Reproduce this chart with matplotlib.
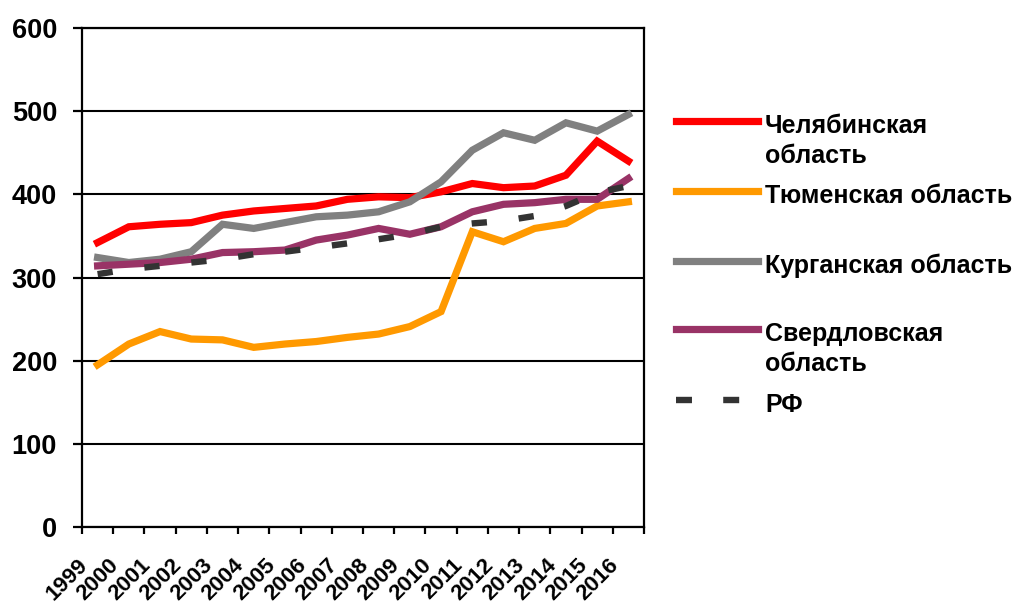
import numpy as np
import matplotlib
matplotlib.use('Agg')
import matplotlib.pyplot as plt
import matplotlib.transforms as mtransforms
from matplotlib.lines import Line2D

plt.rcParams['font.family'] = ['Liberation Sans', 'DejaVu Sans']
plt.rcParams['font.weight'] = 'bold'

# years on the x axis
years = [str(y) for y in range(1999, 2017)]

# series
chel = [342, 361, 364, 366, 375, 380, 383, 386, 394, 397, 396, 403, 413, 408, 410, 423, 464, 440]
tyum = [195, 220, 235, 226, 225, 216, 220, 223, 228, 232, 241, 259, 355, 343, 359, 365, 386, 391]
kurg = [324, 318, 322, 331, 364, 359, 366, 373, 375, 379, 391, 415, 453, 474, 465, 486, 476, 496]
sverd = [314, 316, 318, 322, 330, 331, 333, 345, 351, 359, 352, 361, 379, 388, 390, 394, 394, 419]
rf = [304, 310, 314, 318, 322, 328, 331, 336, 341, 346, 352, 361, 365, 368, 374, 386, 402, 410]

names = ['Челябинская\nобласть', 'Тюменская область', 'Курганская область',
         'Свердловская\nобласть', 'РФ']
colors = ['#FF0000', '#FF9900', '#808080', '#993366', '#333333']
series = [chel, tyum, kurg, sverd, rf]

W, H = 1014, 603
fig = plt.figure(figsize=(W / 100, H / 100), dpi=100)
ax = fig.add_axes([82 / W, 1 - 527 / H, (644 - 82) / W, (527 - 28) / H])

x = np.arange(len(years))
lw = 5.2
for vals, col, nm in zip(series, colors, names):
    if nm == 'РФ':
        ax.plot(x, vals, color=col, lw=4.6, linestyle=(0, (11 / 4.6, 23 / 4.6)),
                dash_capstyle='butt', zorder=5)
    else:
        ax.plot(x, vals, color=col, lw=lw, solid_joinstyle='miter', zorder=4)

ax.set_xlim(-0.5, len(years) - 0.5)
ax.set_ylim(0, 600)
ax.set_yticks(np.arange(0, 601, 100))
ax.yaxis.grid(True, color='black', lw=1.5)
ax.set_axisbelow(True)
for s in ax.spines.values():
    s.set_linewidth(1.6)
    s.set_color('black')

# ticks between categories, labels at the centres
ax.set_xticks(np.arange(-0.5, len(years), 1.0))
ax.set_xticklabels([])
ax.set_xticks(x, minor=True)
ax.set_xticklabels(years, minor=True, rotation=45, ha='right', va='center',
                   rotation_mode='anchor', fontsize=16, fontweight='bold')
ax.tick_params(axis='x', which='major', direction='out', length=5, width=1.6)
ax.tick_params(axis='x', which='minor', length=0, pad=25)
ax.tick_params(axis='y', direction='out', length=6.5, width=1.6, pad=11.5, labelsize=19.5)
for lab in ax.get_yticklabels():
    lab.set_fontweight('bold')
off = mtransforms.ScaledTranslation(-13 / 100, 0, fig.dpi_scale_trans)
for lab in ax.xaxis.get_minorticklabels():
    lab.set_transform(lab.get_transform() + off)

# legend on the right, drawn by hand
def px(xp, yp):
    return xp / W, 1 - yp / H

leg_y = [121, 191, 261, 329, 400]
for yy, col, nm in zip(leg_y, colors, names):
    if nm == 'РФ':
        ln = Line2D([px(676, 0)[0], px(758, 0)[0]], [px(0, yy)[1]] * 2,
                    transform=fig.transFigure, color=col, lw=4.6,
                    linestyle=(0, (11.5 / 4.6, 22.5 / 4.6)), dash_capstyle='butt')
    else:
        ln = Line2D([px(676, 0)[0], px(758, 0)[0]], [px(0, yy)[1]] * 2,
                    transform=fig.transFigure, color=col, lw=lw)
    fig.add_artist(ln)
    for k, part in enumerate(nm.split('\n')):
        tx, ty = px(765, yy + 12 + 30 * k)
        fig.text(tx, ty, part, fontsize=18, fontweight='bold', va='baseline', ha='left')

fig.savefig('out.png', dpi=100)
